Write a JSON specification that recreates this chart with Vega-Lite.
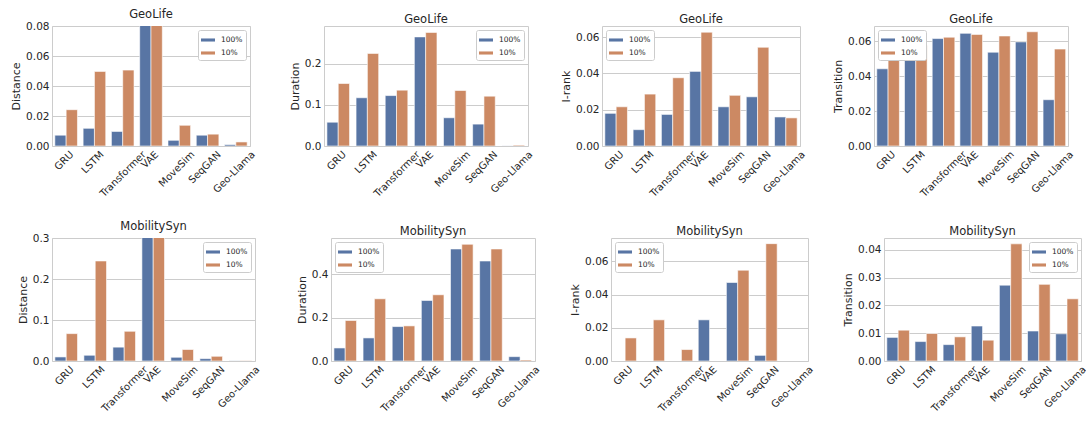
{
  "$schema": "https://vega.github.io/schema/vega-lite/v6.json",
  "padding": {"left": 10, "top": 8, "right": 2, "bottom": 2},
  "background": "white",
  "datasets": {
    "rows": [
      {"dataset":"GeoLife","metric":"Distance","model":"GRU","ratio":"100%","value":0.0072},
      {"dataset":"GeoLife","metric":"Distance","model":"LSTM","ratio":"100%","value":0.0118},
      {"dataset":"GeoLife","metric":"Distance","model":"Transformer","ratio":"100%","value":0.0097},
      {"dataset":"GeoLife","metric":"Distance","model":"VAE","ratio":"100%","value":0.1},
      {"dataset":"GeoLife","metric":"Distance","model":"MoveSim","ratio":"100%","value":0.0038},
      {"dataset":"GeoLife","metric":"Distance","model":"SeqGAN","ratio":"100%","value":0.0072},
      {"dataset":"GeoLife","metric":"Distance","model":"Geo-Llama","ratio":"100%","value":0.0009},
      {"dataset":"GeoLife","metric":"Distance","model":"GRU","ratio":"10%","value":0.0242},
      {"dataset":"GeoLife","metric":"Distance","model":"LSTM","ratio":"10%","value":0.0497},
      {"dataset":"GeoLife","metric":"Distance","model":"Transformer","ratio":"10%","value":0.0506},
      {"dataset":"GeoLife","metric":"Distance","model":"VAE","ratio":"10%","value":0.1},
      {"dataset":"GeoLife","metric":"Distance","model":"MoveSim","ratio":"10%","value":0.0138},
      {"dataset":"GeoLife","metric":"Distance","model":"SeqGAN","ratio":"10%","value":0.0079},
      {"dataset":"GeoLife","metric":"Distance","model":"Geo-Llama","ratio":"10%","value":0.0027},

      {"dataset":"GeoLife","metric":"Duration","model":"GRU","ratio":"100%","value":0.0577},
      {"dataset":"GeoLife","metric":"Duration","model":"LSTM","ratio":"100%","value":0.117},
      {"dataset":"GeoLife","metric":"Duration","model":"Transformer","ratio":"100%","value":0.1223},
      {"dataset":"GeoLife","metric":"Duration","model":"VAE","ratio":"100%","value":0.2646},
      {"dataset":"GeoLife","metric":"Duration","model":"MoveSim","ratio":"100%","value":0.0685},
      {"dataset":"GeoLife","metric":"Duration","model":"SeqGAN","ratio":"100%","value":0.0531},
      {"dataset":"GeoLife","metric":"Duration","model":"Geo-Llama","ratio":"100%","value":0.0003},
      {"dataset":"GeoLife","metric":"Duration","model":"GRU","ratio":"10%","value":0.1515},
      {"dataset":"GeoLife","metric":"Duration","model":"LSTM","ratio":"10%","value":0.2246},
      {"dataset":"GeoLife","metric":"Duration","model":"Transformer","ratio":"10%","value":0.1354},
      {"dataset":"GeoLife","metric":"Duration","model":"VAE","ratio":"10%","value":0.2754},
      {"dataset":"GeoLife","metric":"Duration","model":"MoveSim","ratio":"10%","value":0.1346},
      {"dataset":"GeoLife","metric":"Duration","model":"SeqGAN","ratio":"10%","value":0.1208},
      {"dataset":"GeoLife","metric":"Duration","model":"Geo-Llama","ratio":"10%","value":0.002},

      {"dataset":"GeoLife","metric":"I-rank","model":"GRU","ratio":"100%","value":0.018},
      {"dataset":"GeoLife","metric":"I-rank","model":"LSTM","ratio":"100%","value":0.009},
      {"dataset":"GeoLife","metric":"I-rank","model":"Transformer","ratio":"100%","value":0.0174},
      {"dataset":"GeoLife","metric":"I-rank","model":"VAE","ratio":"100%","value":0.0411},
      {"dataset":"GeoLife","metric":"I-rank","model":"MoveSim","ratio":"100%","value":0.0216},
      {"dataset":"GeoLife","metric":"I-rank","model":"SeqGAN","ratio":"100%","value":0.0271},
      {"dataset":"GeoLife","metric":"I-rank","model":"Geo-Llama","ratio":"100%","value":0.016},
      {"dataset":"GeoLife","metric":"I-rank","model":"GRU","ratio":"10%","value":0.0216},
      {"dataset":"GeoLife","metric":"I-rank","model":"LSTM","ratio":"10%","value":0.0286},
      {"dataset":"GeoLife","metric":"I-rank","model":"Transformer","ratio":"10%","value":0.0376},
      {"dataset":"GeoLife","metric":"I-rank","model":"VAE","ratio":"10%","value":0.0627},
      {"dataset":"GeoLife","metric":"I-rank","model":"MoveSim","ratio":"10%","value":0.0279},
      {"dataset":"GeoLife","metric":"I-rank","model":"SeqGAN","ratio":"10%","value":0.0544},
      {"dataset":"GeoLife","metric":"I-rank","model":"Geo-Llama","ratio":"10%","value":0.0155},

      {"dataset":"GeoLife","metric":"Transition","model":"GRU","ratio":"100%","value":0.0442},
      {"dataset":"GeoLife","metric":"Transition","model":"LSTM","ratio":"100%","value":0.0498},
      {"dataset":"GeoLife","metric":"Transition","model":"Transformer","ratio":"100%","value":0.0615},
      {"dataset":"GeoLife","metric":"Transition","model":"VAE","ratio":"100%","value":0.0645},
      {"dataset":"GeoLife","metric":"Transition","model":"MoveSim","ratio":"100%","value":0.0537},
      {"dataset":"GeoLife","metric":"Transition","model":"SeqGAN","ratio":"100%","value":0.0596},
      {"dataset":"GeoLife","metric":"Transition","model":"Geo-Llama","ratio":"100%","value":0.0265},
      {"dataset":"GeoLife","metric":"Transition","model":"GRU","ratio":"10%","value":0.0563},
      {"dataset":"GeoLife","metric":"Transition","model":"LSTM","ratio":"10%","value":0.0576},
      {"dataset":"GeoLife","metric":"Transition","model":"Transformer","ratio":"10%","value":0.0623},
      {"dataset":"GeoLife","metric":"Transition","model":"VAE","ratio":"10%","value":0.0639},
      {"dataset":"GeoLife","metric":"Transition","model":"MoveSim","ratio":"10%","value":0.063},
      {"dataset":"GeoLife","metric":"Transition","model":"SeqGAN","ratio":"10%","value":0.0654},
      {"dataset":"GeoLife","metric":"Transition","model":"Geo-Llama","ratio":"10%","value":0.0555},

      {"dataset":"MobilitySyn","metric":"Distance","model":"GRU","ratio":"100%","value":0.0099},
      {"dataset":"MobilitySyn","metric":"Distance","model":"LSTM","ratio":"100%","value":0.014},
      {"dataset":"MobilitySyn","metric":"Distance","model":"Transformer","ratio":"100%","value":0.0338},
      {"dataset":"MobilitySyn","metric":"Distance","model":"VAE","ratio":"100%","value":0.35},
      {"dataset":"MobilitySyn","metric":"Distance","model":"MoveSim","ratio":"100%","value":0.009},
      {"dataset":"MobilitySyn","metric":"Distance","model":"SeqGAN","ratio":"100%","value":0.0058},
      {"dataset":"MobilitySyn","metric":"Distance","model":"Geo-Llama","ratio":"100%","value":0.0005},
      {"dataset":"MobilitySyn","metric":"Distance","model":"GRU","ratio":"10%","value":0.0668},
      {"dataset":"MobilitySyn","metric":"Distance","model":"LSTM","ratio":"10%","value":0.244},
      {"dataset":"MobilitySyn","metric":"Distance","model":"Transformer","ratio":"10%","value":0.0725},
      {"dataset":"MobilitySyn","metric":"Distance","model":"VAE","ratio":"10%","value":0.35},
      {"dataset":"MobilitySyn","metric":"Distance","model":"MoveSim","ratio":"10%","value":0.028},
      {"dataset":"MobilitySyn","metric":"Distance","model":"SeqGAN","ratio":"10%","value":0.0115},
      {"dataset":"MobilitySyn","metric":"Distance","model":"Geo-Llama","ratio":"10%","value":0.0008},

      {"dataset":"MobilitySyn","metric":"Duration","model":"GRU","ratio":"100%","value":0.0602},
      {"dataset":"MobilitySyn","metric":"Duration","model":"LSTM","ratio":"100%","value":0.1066},
      {"dataset":"MobilitySyn","metric":"Duration","model":"Transformer","ratio":"100%","value":0.159},
      {"dataset":"MobilitySyn","metric":"Duration","model":"VAE","ratio":"100%","value":0.2795},
      {"dataset":"MobilitySyn","metric":"Duration","model":"MoveSim","ratio":"100%","value":0.5174},
      {"dataset":"MobilitySyn","metric":"Duration","model":"SeqGAN","ratio":"100%","value":0.4618},
      {"dataset":"MobilitySyn","metric":"Duration","model":"Geo-Llama","ratio":"100%","value":0.0201},
      {"dataset":"MobilitySyn","metric":"Duration","model":"GRU","ratio":"10%","value":0.1869},
      {"dataset":"MobilitySyn","metric":"Duration","model":"LSTM","ratio":"10%","value":0.2873},
      {"dataset":"MobilitySyn","metric":"Duration","model":"Transformer","ratio":"10%","value":0.1622},
      {"dataset":"MobilitySyn","metric":"Duration","model":"VAE","ratio":"10%","value":0.3058},
      {"dataset":"MobilitySyn","metric":"Duration","model":"MoveSim","ratio":"10%","value":0.539},
      {"dataset":"MobilitySyn","metric":"Duration","model":"SeqGAN","ratio":"10%","value":0.5174},
      {"dataset":"MobilitySyn","metric":"Duration","model":"Geo-Llama","ratio":"10%","value":0.0046},

      {"dataset":"MobilitySyn","metric":"I-rank","model":"GRU","ratio":"100%","value":0},
      {"dataset":"MobilitySyn","metric":"I-rank","model":"LSTM","ratio":"100%","value":0},
      {"dataset":"MobilitySyn","metric":"I-rank","model":"Transformer","ratio":"100%","value":0},
      {"dataset":"MobilitySyn","metric":"I-rank","model":"VAE","ratio":"100%","value":0.0248},
      {"dataset":"MobilitySyn","metric":"I-rank","model":"MoveSim","ratio":"100%","value":0.0473},
      {"dataset":"MobilitySyn","metric":"I-rank","model":"SeqGAN","ratio":"100%","value":0.0034},
      {"dataset":"MobilitySyn","metric":"I-rank","model":"Geo-Llama","ratio":"100%","value":0},
      {"dataset":"MobilitySyn","metric":"I-rank","model":"GRU","ratio":"10%","value":0.0139},
      {"dataset":"MobilitySyn","metric":"I-rank","model":"LSTM","ratio":"10%","value":0.0248},
      {"dataset":"MobilitySyn","metric":"I-rank","model":"Transformer","ratio":"10%","value":0.0069},
      {"dataset":"MobilitySyn","metric":"I-rank","model":"VAE","ratio":"10%","value":0},
      {"dataset":"MobilitySyn","metric":"I-rank","model":"MoveSim","ratio":"10%","value":0.0547},
      {"dataset":"MobilitySyn","metric":"I-rank","model":"SeqGAN","ratio":"10%","value":0.0707},
      {"dataset":"MobilitySyn","metric":"I-rank","model":"Geo-Llama","ratio":"10%","value":0},

      {"dataset":"MobilitySyn","metric":"Transition","model":"GRU","ratio":"100%","value":0.0085},
      {"dataset":"MobilitySyn","metric":"Transition","model":"LSTM","ratio":"100%","value":0.007},
      {"dataset":"MobilitySyn","metric":"Transition","model":"Transformer","ratio":"100%","value":0.0059},
      {"dataset":"MobilitySyn","metric":"Transition","model":"VAE","ratio":"100%","value":0.0126},
      {"dataset":"MobilitySyn","metric":"Transition","model":"MoveSim","ratio":"100%","value":0.0273},
      {"dataset":"MobilitySyn","metric":"Transition","model":"SeqGAN","ratio":"100%","value":0.0108},
      {"dataset":"MobilitySyn","metric":"Transition","model":"Geo-Llama","ratio":"100%","value":0.0098},
      {"dataset":"MobilitySyn","metric":"Transition","model":"GRU","ratio":"10%","value":0.0111},
      {"dataset":"MobilitySyn","metric":"Transition","model":"LSTM","ratio":"10%","value":0.0099},
      {"dataset":"MobilitySyn","metric":"Transition","model":"Transformer","ratio":"10%","value":0.0087},
      {"dataset":"MobilitySyn","metric":"Transition","model":"VAE","ratio":"10%","value":0.0075},
      {"dataset":"MobilitySyn","metric":"Transition","model":"MoveSim","ratio":"10%","value":0.0422},
      {"dataset":"MobilitySyn","metric":"Transition","model":"SeqGAN","ratio":"10%","value":0.0276},
      {"dataset":"MobilitySyn","metric":"Transition","model":"Geo-Llama","ratio":"10%","value":0.0224}
    ]
  },
  "spacing": 20,
  "resolve": {"scale": {"color": "independent"}, "legend": {"color": "independent"}},
  "vconcat": [
    {
      "bounds": "flush",
      "spacing": 74,
      "resolve": {"scale": {"color": "independent"}, "legend": {"color": "independent"}},
      "hconcat": [
        {
          "width": 198, "height": 120,
          "title": {"text": "GeoLife", "fontWeight": "normal", "fontSize": 11.5, "color": "#262626", "offset": 1},
          "data": {"name": "rows"},
          "transform": [{"filter": "datum.dataset == 'GeoLife' && datum.metric == 'Distance'"}],
          "mark": {"type": "bar", "clip": true, "stroke": "white", "strokeWidth": 0.6},
          "encoding": {
            "x": {"field": "model", "type": "nominal", "scale": {"domain": ["GRU","LSTM","Transformer","VAE","MoveSim","SeqGAN","Geo-Llama"], "paddingInner": 0.2, "paddingOuter": 0.1}, "axis": {"title": null, "labelOffset": {"expr": "length(datum.label)*1.95 - 3.5"}}},
            "xOffset": {"field": "ratio", "type": "nominal", "scale": {"domain": ["100%","10%"], "paddingInner": 0, "paddingOuter": 0}},
            "y": {"field": "value", "type": "quantitative", "scale": {"domain": [0, 0.08], "nice": false}, "axis": {"title": "Distance", "values": [0, 0.02, 0.04, 0.06, 0.08], "format": ".2f"}},
            "color": {"field": "ratio", "type": "nominal", "scale": {"domain": ["100%","10%"], "range": ["#5875A4","#CC8963"]}, "legend": {"orient": "top-right"}}
          }
        },
        {
          "width": 204, "height": 120,
          "title": {"text": "GeoLife", "fontWeight": "normal", "fontSize": 11.5, "color": "#262626", "offset": 1},
          "data": {"name": "rows"},
          "transform": [{"filter": "datum.dataset == 'GeoLife' && datum.metric == 'Duration'"}],
          "mark": {"type": "bar", "clip": true, "stroke": "white", "strokeWidth": 0.6},
          "encoding": {
            "x": {"field": "model", "type": "nominal", "scale": {"domain": ["GRU","LSTM","Transformer","VAE","MoveSim","SeqGAN","Geo-Llama"], "paddingInner": 0.2, "paddingOuter": 0.1}, "axis": {"title": null, "labelOffset": {"expr": "length(datum.label)*1.95 - 3.5"}}},
            "xOffset": {"field": "ratio", "type": "nominal", "scale": {"domain": ["100%","10%"], "paddingInner": 0, "paddingOuter": 0}},
            "y": {"field": "value", "type": "quantitative", "scale": {"domain": [0, 0.291], "nice": false}, "axis": {"title": "Duration", "values": [0, 0.1, 0.2], "format": ".1f"}},
            "color": {"field": "ratio", "type": "nominal", "scale": {"domain": ["100%","10%"], "range": ["#5875A4","#CC8963"]}, "legend": {"orient": "top-right"}}
          }
        },
        {
          "width": 198, "height": 120,
          "title": {"text": "GeoLife", "fontWeight": "normal", "fontSize": 11.5, "color": "#262626", "offset": 1},
          "data": {"name": "rows"},
          "transform": [{"filter": "datum.dataset == 'GeoLife' && datum.metric == 'I-rank'"}],
          "mark": {"type": "bar", "clip": true, "stroke": "white", "strokeWidth": 0.6},
          "encoding": {
            "x": {"field": "model", "type": "nominal", "scale": {"domain": ["GRU","LSTM","Transformer","VAE","MoveSim","SeqGAN","Geo-Llama"], "paddingInner": 0.2, "paddingOuter": 0.1}, "axis": {"title": null, "labelOffset": {"expr": "length(datum.label)*1.95 - 3.5"}}},
            "xOffset": {"field": "ratio", "type": "nominal", "scale": {"domain": ["100%","10%"], "paddingInner": 0, "paddingOuter": 0}},
            "y": {"field": "value", "type": "quantitative", "scale": {"domain": [0, 0.0661], "nice": false}, "axis": {"title": "I-rank", "values": [0, 0.02, 0.04, 0.06], "format": ".2f"}},
            "color": {"field": "ratio", "type": "nominal", "scale": {"domain": ["100%","10%"], "range": ["#5875A4","#CC8963"]}, "legend": {"orient": "top-left"}}
          }
        },
        {
          "width": 194, "height": 120,
          "title": {"text": "GeoLife", "fontWeight": "normal", "fontSize": 11.5, "color": "#262626", "offset": 1},
          "data": {"name": "rows"},
          "transform": [{"filter": "datum.dataset == 'GeoLife' && datum.metric == 'Transition'"}],
          "mark": {"type": "bar", "clip": true, "stroke": "white", "strokeWidth": 0.6},
          "encoding": {
            "x": {"field": "model", "type": "nominal", "scale": {"domain": ["GRU","LSTM","Transformer","VAE","MoveSim","SeqGAN","Geo-Llama"], "paddingInner": 0.2, "paddingOuter": 0.1}, "axis": {"title": null, "labelOffset": {"expr": "length(datum.label)*1.95 - 3.5"}}},
            "xOffset": {"field": "ratio", "type": "nominal", "scale": {"domain": ["100%","10%"], "paddingInner": 0, "paddingOuter": 0}},
            "y": {"field": "value", "type": "quantitative", "scale": {"domain": [0, 0.0687], "nice": false}, "axis": {"title": "Transition", "values": [0, 0.02, 0.04, 0.06], "format": ".2f"}},
            "color": {"field": "ratio", "type": "nominal", "scale": {"domain": ["100%","10%"], "range": ["#5875A4","#CC8963"]}, "legend": {"orient": "top-left"}}
          }
        }
      ]
    },
    {
      "bounds": "flush",
      "spacing": 76,
      "resolve": {"scale": {"color": "independent"}, "legend": {"color": "independent"}},
      "hconcat": [
        {
          "width": 203, "height": 123,
          "title": {"text": "MobilitySyn", "fontWeight": "normal", "fontSize": 11.5, "color": "#262626", "offset": 1},
          "data": {"name": "rows"},
          "transform": [{"filter": "datum.dataset == 'MobilitySyn' && datum.metric == 'Distance'"}],
          "mark": {"type": "bar", "clip": true, "stroke": "white", "strokeWidth": 0.6},
          "encoding": {
            "x": {"field": "model", "type": "nominal", "scale": {"domain": ["GRU","LSTM","Transformer","VAE","MoveSim","SeqGAN","Geo-Llama"], "paddingInner": 0.2, "paddingOuter": 0.1}, "axis": {"title": null, "labelOffset": {"expr": "length(datum.label)*1.95 - 3.5"}}},
            "xOffset": {"field": "ratio", "type": "nominal", "scale": {"domain": ["100%","10%"], "paddingInner": 0, "paddingOuter": 0}},
            "y": {"field": "value", "type": "quantitative", "scale": {"domain": [0, 0.3], "nice": false}, "axis": {"title": "Distance", "values": [0, 0.1, 0.2, 0.3], "format": ".1f"}},
            "color": {"field": "ratio", "type": "nominal", "scale": {"domain": ["100%","10%"], "range": ["#5875A4","#CC8963"]}, "legend": {"orient": "top-right"}}
          }
        },
        {
          "width": 204, "height": 123,
          "title": {"text": "MobilitySyn", "fontWeight": "normal", "fontSize": 11.5, "color": "#262626", "offset": 1},
          "data": {"name": "rows"},
          "transform": [{"filter": "datum.dataset == 'MobilitySyn' && datum.metric == 'Duration'"}],
          "mark": {"type": "bar", "clip": true, "stroke": "white", "strokeWidth": 0.6},
          "encoding": {
            "x": {"field": "model", "type": "nominal", "scale": {"domain": ["GRU","LSTM","Transformer","VAE","MoveSim","SeqGAN","Geo-Llama"], "paddingInner": 0.2, "paddingOuter": 0.1}, "axis": {"title": null, "labelOffset": {"expr": "length(datum.label)*1.95 - 3.5"}}},
            "xOffset": {"field": "ratio", "type": "nominal", "scale": {"domain": ["100%","10%"], "paddingInner": 0, "paddingOuter": 0}},
            "y": {"field": "value", "type": "quantitative", "scale": {"domain": [0, 0.568], "nice": false}, "axis": {"title": "Duration", "values": [0, 0.2, 0.4], "format": ".1f"}},
            "color": {"field": "ratio", "type": "nominal", "scale": {"domain": ["100%","10%"], "range": ["#5875A4","#CC8963"]}, "legend": {"orient": "top-left"}}
          }
        },
        {
          "width": 197, "height": 123,
          "title": {"text": "MobilitySyn", "fontWeight": "normal", "fontSize": 11.5, "color": "#262626", "offset": 1},
          "data": {"name": "rows"},
          "transform": [{"filter": "datum.dataset == 'MobilitySyn' && datum.metric == 'I-rank'"}],
          "mark": {"type": "bar", "clip": true, "stroke": "white", "strokeWidth": 0.6},
          "encoding": {
            "x": {"field": "model", "type": "nominal", "scale": {"domain": ["GRU","LSTM","Transformer","VAE","MoveSim","SeqGAN","Geo-Llama"], "paddingInner": 0.2, "paddingOuter": 0.1}, "axis": {"title": null, "labelOffset": {"expr": "length(datum.label)*1.95 - 3.5"}}},
            "xOffset": {"field": "ratio", "type": "nominal", "scale": {"domain": ["100%","10%"], "paddingInner": 0, "paddingOuter": 0}},
            "y": {"field": "value", "type": "quantitative", "scale": {"domain": [0, 0.0741], "nice": false}, "axis": {"title": "I-rank", "values": [0, 0.02, 0.04, 0.06], "format": ".2f"}},
            "color": {"field": "ratio", "type": "nominal", "scale": {"domain": ["100%","10%"], "range": ["#5875A4","#CC8963"]}, "legend": {"orient": "top-left"}}
          }
        },
        {
          "width": 197, "height": 123,
          "title": {"text": "MobilitySyn", "fontWeight": "normal", "fontSize": 11.5, "color": "#262626", "offset": 1},
          "data": {"name": "rows"},
          "transform": [{"filter": "datum.dataset == 'MobilitySyn' && datum.metric == 'Transition'"}],
          "mark": {"type": "bar", "clip": true, "stroke": "white", "strokeWidth": 0.6},
          "encoding": {
            "x": {"field": "model", "type": "nominal", "scale": {"domain": ["GRU","LSTM","Transformer","VAE","MoveSim","SeqGAN","Geo-Llama"], "paddingInner": 0.2, "paddingOuter": 0.1}, "axis": {"title": null, "labelOffset": {"expr": "length(datum.label)*1.95 - 3.5"}}},
            "xOffset": {"field": "ratio", "type": "nominal", "scale": {"domain": ["100%","10%"], "paddingInner": 0, "paddingOuter": 0}},
            "y": {"field": "value", "type": "quantitative", "scale": {"domain": [0, 0.0443], "nice": false}, "axis": {"title": "Transition", "values": [0, 0.01, 0.02, 0.03, 0.04], "format": ".2f"}},
            "color": {"field": "ratio", "type": "nominal", "scale": {"domain": ["100%","10%"], "range": ["#5875A4","#CC8963"]}, "legend": {"orient": "top-right"}}
          }
        }
      ]
    }
  ],
  "config": {
    "font": "DejaVu Sans",
    "view": {"stroke": "#cccccc", "strokeWidth": 1},
    "title": {"font": "DejaVu Sans", "fontSize": 11.5, "fontWeight": "normal", "color": "#262626", "offset": 1},
    "style": {"group-title": {"fontWeight": "normal", "fontSize": 11.5, "font": "DejaVu Sans", "fill": "#262626"}},
    "axis": {
      "labelFont": "DejaVu Sans", "labelFontSize": 10.5, "labelColor": "#262626",
      "titleFont": "DejaVu Sans", "titleFontSize": 11, "titleFontWeight": "normal", "titleColor": "#262626",
      "domain": false, "ticks": false, "gridColor": "#cccccc", "gridWidth": 1,
      "labelPadding": 3, "titlePadding": 4
    },
    "axisX": {"labelAngle": -45, "labelAlign": "right", "labelBaseline": "top", "grid": false, "labelPadding": 3, "labelFontSize": 10},
    "axisY": {"grid": true},
    "legend": {
      "title": null, "labelFont": "DejaVu Sans", "labelFontSize": 7.5, "labelColor": "#262626",
      "symbolType": "M-1,-0.22L1,-0.22L1,0.22L-1,0.22Z", "symbolSize": 196, "symbolStrokeWidth": 0, "symbolOpacity": 1,
      "fillColor": "white", "strokeColor": "#cccccc", "padding": 3, "cornerRadius": 2,
      "rowPadding": 2, "labelOffset": 6, "offset": 4
    }
  }
}
